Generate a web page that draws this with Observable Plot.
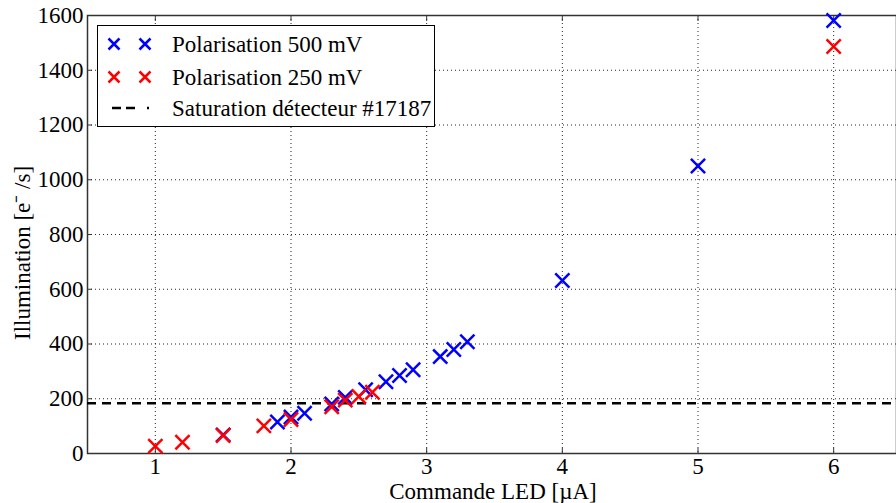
<!DOCTYPE html>
<html>
<head>
<meta charset="utf-8">
<script src="https://cdn.jsdelivr.net/npm/d3@7"></script>
<script src="https://cdn.jsdelivr.net/npm/@observablehq/plot@0.6"></script>
<style>
  html, body { margin: 0; padding: 0; background: white; overflow: hidden; }
  #chart svg { font-family: "Liberation Serif", "DejaVu Serif", serif; }
</style>
</head>
<body>
<div id="chart"></div>
<script>
// ---- data ----
const xBlue = [1.5, 1.9, 2.0, 2.1, 2.3, 2.4, 2.55, 2.7, 2.8, 2.9, 3.1, 3.2, 3.3, 4, 5, 6];
const yBlue = [68, 115, 133, 147, 181, 205, 233, 262, 285, 306, 354, 380, 408, 632, 1050, 1582];
const xRed = [1.0, 1.2, 1.5, 1.8, 2.0, 2.3, 2.4, 2.5, 2.6, 6];
const yRed = [27, 41, 66, 101, 124, 171, 195, 208, 224, 1487];
const saturation = 184;
const xTicks = [1, 2, 3, 4, 5, 6];
const yTicks = [0, 200, 400, 600, 800, 1000, 1200, 1400, 1600];
const seriesNames = ["Polarisation 500 mV", "Polarisation 250 mV", "Saturation détecteur #17187"];
const xLabel = "Commande LED [µA]";
const yLabel = "Illumination [e⁻ /s]";

const blue = xBlue.map((x, i) => ({x, y: yBlue[i]}));
const red = xRed.map((x, i) => ({x, y: yRed[i]}));

const font = "Liberation Serif";
const fs = 23;

const plot = Plot.plot({
  width: 896,
  height: 503,
  marginLeft: 87,
  marginTop: 15,
  marginBottom: 50,
  marginRight: 0,
  style: {fontFamily: font, fontSize: fs + "px", color: "black", background: "white"},
  x: {domain: [0.5, 6.5], range: [87, 901]},
  y: {domain: [0, 1600], range: [453, 15]},
  marks: [
    Plot.gridX(xTicks, {stroke: "black", strokeOpacity: 0.85, strokeDasharray: "1,3", strokeWidth: 1}),
    Plot.gridY(yTicks, {stroke: "black", strokeOpacity: 0.85, strokeDasharray: "1,3", strokeWidth: 1}),
    Plot.axisX(xTicks, {anchor: "bottom", tickSize: -5, tickPadding: 9, fontSize: fs, tickFormat: d => String(d), label: null, stroke: "#333"}),
    Plot.axisX(xTicks, {anchor: "top", tickSize: -5, tickFormat: () => "", label: null, stroke: "#333"}),
    Plot.axisY(yTicks, {anchor: "left", tickSize: -5, tickPadding: 9, fontSize: fs, tickFormat: d => String(d), label: null, stroke: "#333"}),
    Plot.frame({stroke: "#333", strokeWidth: 1.5}),
    Plot.ruleY([saturation], {stroke: "black", strokeWidth: 2.5, strokeDasharray: "9,6"}),
    Plot.dot(blue, {x: "x", y: "y", symbol: "times", r: 6.5, stroke: "#0000ff", strokeWidth: 2.5}),
    Plot.dot(red, {x: "x", y: "y", symbol: "times", r: 6.5, stroke: "#ff0000", strokeWidth: 2.5})
  ]
});
document.getElementById("chart").appendChild(plot);

// axis labels and legend
const svg = d3.select(plot);
svg.append("text")
  .attr("x", 493).attr("y", 499)
  .attr("text-anchor", "middle")
  .attr("font-family", font).attr("font-size", fs).attr("fill", "black")
  .text(xLabel);
svg.append("text")
  .attr("transform", "translate(30,253) rotate(-90)")
  .attr("text-anchor", "middle")
  .attr("font-family", font).attr("font-size", fs).attr("fill", "black")
  .text(yLabel);

const lg = svg.append("g");
lg.append("rect").attr("x", 97.5).attr("y", 25.5).attr("width", 337).attr("height", 101)
  .attr("fill", "white").attr("stroke", "black").attr("stroke-width", 1);
const rows = [44, 77, 108];
const colors = ["#0000ff", "#ff0000"];
const cross = (cx, cy, c) => {
  const h = 5.5;
  lg.append("path").attr("d", `M${cx - h},${cy - h}L${cx + h},${cy + h}M${cx - h},${cy + h}L${cx + h},${cy - h}`)
    .attr("stroke", c).attr("stroke-width", 2.5).attr("fill", "none");
};
colors.forEach((c, i) => { cross(114, rows[i], c); cross(145, rows[i], c); });
lg.append("line").attr("x1", 112).attr("x2", 149).attr("y1", rows[2]).attr("y2", rows[2])
  .attr("stroke", "black").attr("stroke-width", 2.5).attr("stroke-dasharray", "9,5,9,12,2,20");
seriesNames.forEach((t, i) => {
  lg.append("text").attr("x", 172).attr("y", rows[i]).attr("dy", "0.35em")
    .attr("text-anchor", "start")
    .attr("font-family", font).attr("font-size", fs).attr("fill", "black").text(t);
});
</script>
</body>
</html>
